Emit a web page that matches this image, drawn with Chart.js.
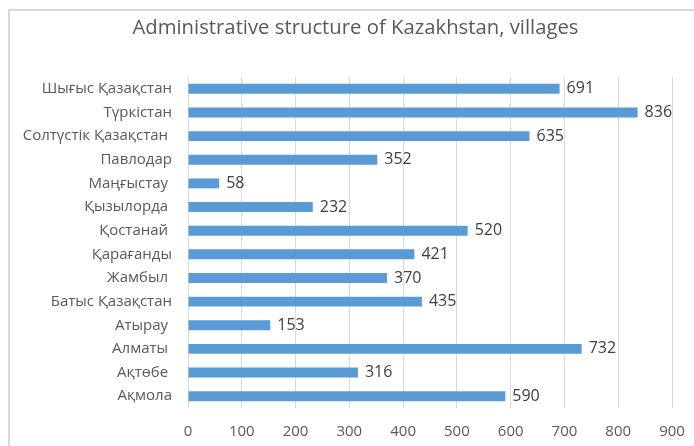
<!DOCTYPE html>
<html>
<head>
<meta charset="utf-8">
<script src="https://cdn.jsdelivr.net/npm/chart.js@4"></script>
<style>
  html, body { margin: 0; padding: 0; background: #fff; }
  #wrap { position: relative; width: 694px; height: 446px; overflow: hidden; }
  #frame { position: absolute; left: 8px; top: 9px; width: 720px; height: 480px;
           border: 2px solid #d9d9d9; box-sizing: border-box; }
  canvas { position: absolute; left: 0; top: 0; }
</style>
</head>
<body>
<div id="wrap">
  <div id="frame"></div>
  <canvas id="chart" width="694" height="446"></canvas>
</div>
<script>
// ================= DADOS =================
const chartTitle = 'Administrative structure of Kazakhstan, villages';
const regions = [
  'Шығыс Қазақстан', 'Түркістан', 'Солтүстік Қазақстан ', 'Павлодар', 'Маңғыстау ',
  'Қызылорда ', 'Қостанай ', 'Қарағанды', 'Жамбыл ', 'Батыс Қазақстан',
  'Атырау ', 'Алматы ', 'Ақтөбе ', 'Ақмола'
];
const villages = [691, 836, 635, 352, 58, 232, 520, 421, 370, 435, 153, 732, 316, 590];
const xTicks = [0, 100, 200, 300, 400, 500, 600, 700, 800, 900];

const FONT = "'Open Sans', sans-serif";
const TEXT = '#595959';

// ================= TÍTULO (centrado no quadro, não no gráfico) =================
const frameTitle = {
  id: 'frameTitle',
  afterDraw(chart) {
    const ctx = chart.ctx;
    ctx.save();
    ctx.font = '20.3px ' + FONT;
    ctx.fillStyle = TEXT;
    ctx.textAlign = 'center';
    ctx.textBaseline = 'middle';
    ctx.fillText(chartTitle, 355.5, 28);
    ctx.restore();
  }
};

// ================= RÓTULOS DAS BARRAS =================
const valueLabels = {
  id: 'valueLabels',
  afterDatasetsDraw(chart) {
    const ctx = chart.ctx;
    const meta = chart.getDatasetMeta(0);
    ctx.save();
    ctx.font = '16px ' + FONT;
    ctx.fillStyle = '#404040';
    ctx.textAlign = 'left';
    ctx.textBaseline = 'middle';
    meta.data.forEach((bar, i) => {
      ctx.fillText(String(villages[i]), bar.x + 7, bar.y);
    });
    ctx.restore();
  }
};

const ctx = document.getElementById('chart').getContext('2d');
new Chart(ctx, {
  type: 'bar',
  data: {
    labels: regions,
    datasets: [{
      data: villages,
      backgroundColor: '#5b9bd5',
      borderWidth: 0,
      barPercentage: 0.42,
      categoryPercentage: 1
    }]
  },
  options: {
    indexAxis: 'y',
    responsive: false,
    animation: false,
    layout: { padding: { left: 0, right: 22, top: 77, bottom: 5 } },
    plugins: {
      legend: { display: false },
      tooltip: { enabled: false },
      title: { display: false }
    },
    scales: {
      x: {
        min: 0,
        max: 900,
        afterBuildTicks: scale => { scale.ticks = xTicks.map(v => ({ value: v })); },
        afterFit: scale => {
          scale.height = 33;
          scale.paddingLeft = 0;
          scale.paddingRight = 0;
        },
        grid: { color: '#d9d9d9', lineWidth: 1, drawTicks: false },
        border: { display: false },
        ticks: { color: TEXT, font: { family: FONT, size: 15 }, padding: 15 }
      },
      y: {
        afterFit: scale => { scale.width = 188; },
        grid: { display: false, drawTicks: false },
        border: { display: false },
        ticks: { color: TEXT, font: { family: FONT, size: 15 }, padding: 16, autoSkip: false }
      }
    }
  },
  plugins: [valueLabels, frameTitle]
});
</script>
</body>
</html>
